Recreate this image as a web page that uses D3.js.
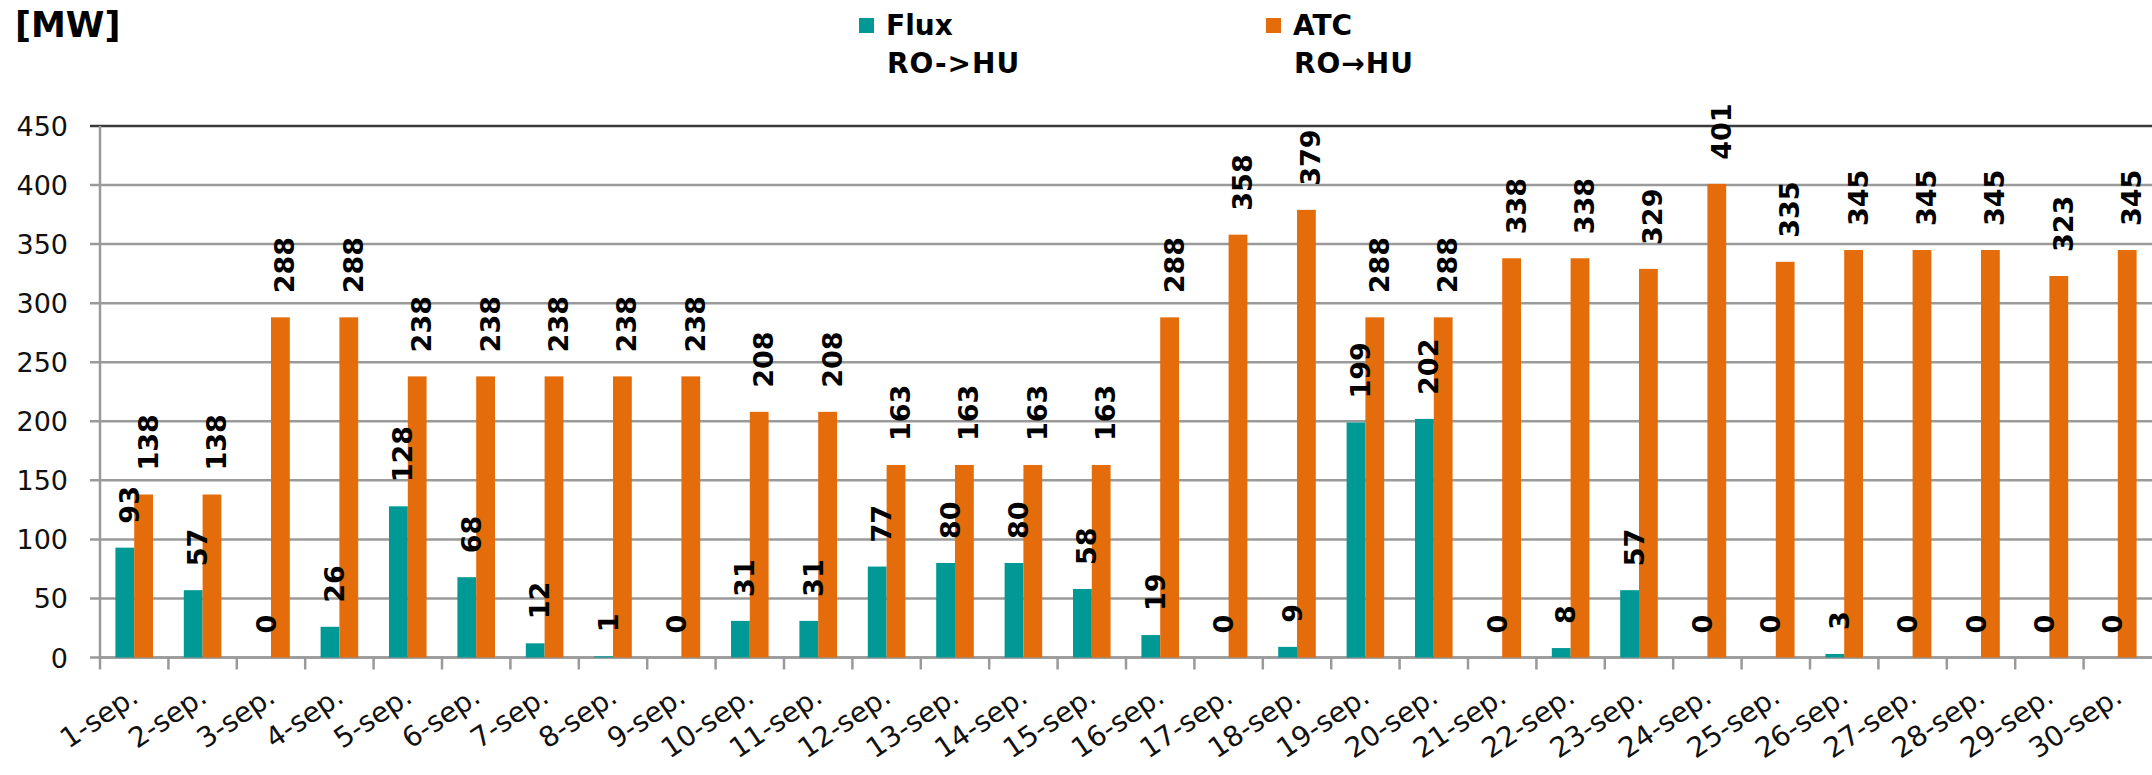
<!DOCTYPE html>
<html>
<head>
<meta charset="utf-8">
<script src="https://cdn.jsdelivr.net/npm/d3@7"></script>
<style>
  html, body { margin: 0; padding: 0; background: #fff; }
  svg { display: block; font-family: "DejaVu Sans", Verdana, sans-serif; }
</style>
</head>
<body>
<div id="chart"></div>
<script>
// values
var days = ['1-sep.', '2-sep.', '3-sep.', '4-sep.', '5-sep.', '6-sep.', '7-sep.', '8-sep.', '9-sep.', '10-sep.',
  '11-sep.', '12-sep.', '13-sep.', '14-sep.', '15-sep.', '16-sep.', '17-sep.', '18-sep.', '19-sep.', '20-sep.',
  '21-sep.', '22-sep.', '23-sep.', '24-sep.', '25-sep.', '26-sep.', '27-sep.', '28-sep.', '29-sep.', '30-sep.'];
var flux = [93, 57, 0, 26, 128, 68, 12, 1, 0, 31, 31, 77, 80, 80, 58, 19, 0, 9, 199, 202, 0, 8, 57, 0, 0, 3, 0, 0, 0, 0];
var atc = [138, 138, 288, 288, 238, 238, 238, 238, 238, 208, 208, 163, 163, 163, 163, 288, 358, 379, 288, 288,
  338, 338, 329, 401, 335, 345, 345, 345, 323, 345];
var yTicks = [0, 50, 100, 150, 200, 250, 300, 350, 400, 450];
var seriesNames = ['flux', 'atc'];
var legendTitles = ['Flux', 'ATC'];
var legendSubs = ['RO->HU', 'RO\u2192HU'];

var width = 2152, height = 775;
var colors = {flux: '#009995', atc: '#e46c0a'};

var svg = d3.select('#chart').append('svg')
  .attr('width', width)
  .attr('height', height);

var x0 = d3.scaleBand().domain(days).range([100, 2152]).paddingInner(0).paddingOuter(0);
var x1 = d3.scaleBand().domain(seriesNames).range([0, x0.bandwidth()]).paddingInner(0).paddingOuter(0.82);
var y = d3.scaleLinear().domain([0, 450]).range([657.5, 126]);

// gridlines
svg.append('g').selectAll('line')
  .data(yTicks)
  .join('line')
  .attr('x1', 90)
  .attr('x2', width)
  .attr('y1', d => y(d))
  .attr('y2', d => y(d))
  .attr('stroke', d => d === 450 ? '#3a3a3a' : '#9a9a9a')
  .attr('stroke-width', 2.5);

// y axis labels
svg.append('g').selectAll('text')
  .data(yTicks)
  .join('text')
  .attr('x', 68)
  .attr('y', d => y(d) + 10)
  .attr('text-anchor', 'end')
  .attr('font-size', 27)
  .attr('fill', '#111')
  .text(d => d);

// y axis line
svg.append('line')
  .attr('x1', 100).attr('x2', 100)
  .attr('y1', y(450)).attr('y2', y(0))
  .attr('stroke', '#9a9a9a').attr('stroke-width', 2.5);

// x axis + ticks
svg.append('line')
  .attr('x1', 100).attr('x2', width)
  .attr('y1', y(0)).attr('y2', y(0))
  .attr('stroke', '#9a9a9a').attr('stroke-width', 2.5);
svg.append('g').selectAll('line')
  .data(days)
  .join('line')
  .attr('x1', d => x0(d)).attr('x2', d => x0(d))
  .attr('y1', y(0)).attr('y2', y(0) + 12)
  .attr('stroke', '#9a9a9a').attr('stroke-width', 2.5);

// bars
var rows = days.map((d, i) => ({day: d, flux: flux[i], atc: atc[i]}));
var groups = svg.append('g').selectAll('g')
  .data(rows)
  .join('g')
  .attr('transform', d => 'translate(' + x0(d.day) + ',0)');

groups.selectAll('rect')
  .data(d => seriesNames.map(k => ({key: k, value: d[k]})))
  .join('rect')
  .attr('x', d => x1(d.key))
  .attr('width', x1.bandwidth())
  .attr('y', d => y(d.value))
  .attr('height', d => y(0) - y(d.value))
  .attr('fill', d => colors[d.key]);

// value labels, rotated
groups.selectAll('text')
  .data(d => seriesNames.map(k => ({key: k, value: d[k]})))
  .join('text')
  .attr('transform', d => 'translate(' + (x1(d.key) + x1.bandwidth() / 2 + 14) + ',' + (y(d.value) - 24) + ') rotate(-90)')
  .attr('font-size', 27)
  .attr('font-weight', 'bold')
  .attr('fill', '#000')
  .text(d => d.value);

// category labels
svg.append('g').selectAll('text')
  .data(days)
  .join('text')
  .attr('transform', d => 'translate(' + (x0(d) + x0.bandwidth() / 2 + 6) + ',701) rotate(-34)')
  .attr('text-anchor', 'end')
  .attr('font-size', 28)
  .attr('fill', '#111')
  .text(d => d);

// unit
svg.append('text')
  .attr('x', 15).attr('y', 37)
  .attr('font-size', 35)
  .attr('font-weight', 'bold')
  .text('[MW]');

// legend
var legendX = [859, 1266];
var legend = svg.append('g').selectAll('g')
  .data(seriesNames)
  .join('g')
  .attr('transform', (d, i) => 'translate(' + legendX[i] + ',0)');
legend.append('rect')
  .attr('x', 0).attr('y', 18)
  .attr('width', 15).attr('height', 15)
  .attr('fill', d => colors[d]);
legend.append('text')
  .attr('x', 27).attr('y', 35)
  .attr('font-size', 28)
  .attr('font-weight', 'bold')
  .text((d, i) => legendTitles[i]);
legend.append('text')
  .attr('x', 28).attr('y', 73)
  .attr('font-size', 28)
  .attr('font-weight', 'bold')
  .attr('letter-spacing', 1)
  .text((d, i) => legendSubs[i]);
</script>
</body>
</html>
